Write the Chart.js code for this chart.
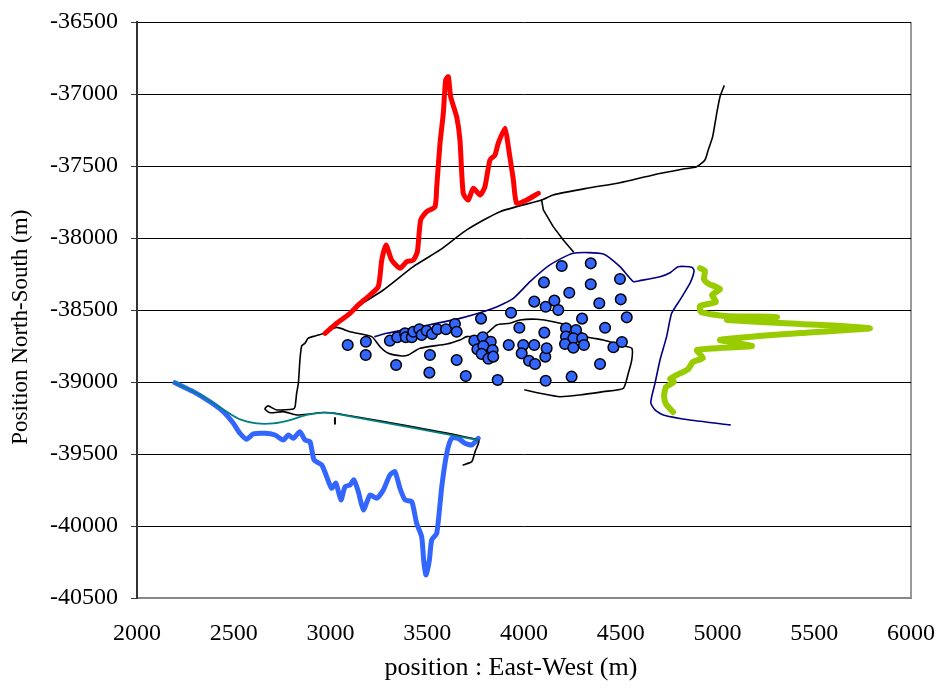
<!DOCTYPE html>
<html>
<head>
<meta charset="utf-8">
<script src="https://cdn.jsdelivr.net/npm/chart.js@4.4.1/dist/chart.umd.min.js"></script>
<style>
  html, body { margin: 0; padding: 0; background: #fff; }
</style>
</head>
<body>
<canvas id="myChart" width="939" height="688"></canvas>
<script>
// Track coordinates in metres
var redX = [2972,3032,3101,3144,3204,3247,3265,3287,3316,3359,3394,3428,3449,3466,3497,3540,3549,3566,3583,3595,3609,3621,3652,3669,3686,3712,3738,3773,3798,3824,3850,3867,3902,3919,3945,3962,4014,4074];
var redY = [-38662,-38592,-38523,-38465,-38396,-38338,-38153,-38049,-38153,-38210,-38164,-38153,-38095,-37875,-37817,-37783,-37644,-37342,-37134,-36903,-36880,-37019,-37158,-37319,-37690,-37736,-37655,-37701,-37644,-37458,-37424,-37342,-37238,-37366,-37597,-37759,-37736,-37690];

var blueX = [2196,2291,2377,2446,2498,2532,2567,2601,2661,2713,2756,2782,2808,2842,2868,2894,2915,2955,2980,3006,3028,3054,3075,3101,3121,3144,3170,3204,3239,3273,3307,3333,3359,3385,3420,3445,3471,3483,3494,3511,3523,3549,3575,3601,3626,3660,3695,3730,3764];
var blueY = [-39005,-39067,-39137,-39206,-39287,-39356,-39398,-39361,-39356,-39368,-39403,-39368,-39391,-39345,-39403,-39414,-39541,-39576,-39657,-39738,-39703,-39819,-39727,-39715,-39680,-39762,-39889,-39785,-39807,-39750,-39646,-39623,-39738,-39819,-39831,-39981,-40074,-40259,-40340,-40236,-40097,-40051,-39727,-39495,-39391,-39391,-39426,-39437,-39391];

var tealX = [2196,2326,2464,2532,2619,2704,2791,2877,2963,3032,3764];
var tealY = [-39005,-39090,-39206,-39259,-39287,-39287,-39264,-39229,-39213,-39222,-39403];

var navyX = [3230,3290,3463,3669,3841,3945,4031,4134,4255,4410,4496,4565,4599,4703,4755,4797,4867,4879,4858,4806,4763,4737,4703,4677,4655,4677,4720,4858,5065];
var navyY = [-38685,-38662,-38616,-38558,-38488,-38419,-38303,-38187,-38106,-38111,-38199,-38303,-38296,-38269,-38241,-38199,-38203,-38227,-38314,-38430,-38523,-38685,-38847,-39009,-39143,-39194,-39229,-39264,-39298];

var greenX = [4910,4935,4930,4956,5013,4972,4992,4910,4915,5039,5308,5049,5426,5788,5426,5013,5178,4894,4925,4873,4848,4780,4755,4775,4734,4724,4734,4770];
var greenY = [-38210,-38229,-38285,-38319,-38354,-38396,-38444,-38472,-38514,-38542,-38548,-38569,-38597,-38627,-38660,-38708,-38750,-38778,-38833,-38861,-38910,-38958,-38979,-39000,-39035,-39097,-39153,-39208];

// black survey track (main run, inner loop, branch, small tick)
var trackX = [5034,5013,4996,4975,4952,4935,4892,4823,4668,4496,4324,4151,4091,3876,3704,3566,3428,3273,3152,3049,2963,2920,2885,2868,2851,2842,2834,2825,2817,2808,2722,2677,2661,2687,2756,2825,2894,2961,3032,3764,3747,3730,3686];
var trackY = [-36944,-37019,-37134,-37296,-37389,-37458,-37505,-37521,-37562,-37616,-37655,-37701,-37736,-37817,-37944,-38083,-38199,-38361,-38465,-38569,-38662,-38680,-38696,-38731,-38750,-38847,-39009,-39078,-39171,-39187,-39194,-39166,-39187,-39213,-39206,-39229,-39222,-39212,-39219,-39403,-39484,-39553,-39576];

var loopX = [2963,3032,3101,3213,3256,3299,3368,3402,3463,3601,3669,3704,3756,3807,3859,3928,3979,4066,4151,4255,4324,4410,4496,4557,4557,4539,4513,4410,4289,4186,4083,4005];
var loopY = [-38662,-38621,-38651,-38685,-38755,-38801,-38819,-38812,-38766,-38736,-38708,-38685,-38685,-38662,-38604,-38592,-38569,-38564,-38581,-38620,-38685,-38708,-38743,-38766,-38847,-38939,-39044,-39067,-39090,-39102,-39078,-39055];

var branchX = [4091,4100,4151,4203,4255];
var branchY = [-37736,-37805,-37921,-38014,-38095];

var tickX = [3023,3023];
var tickY = [-39250,-39290];

// sample stations
var dotX = [3089,3183,3182,3307,3339,3345,3385,3389,3420,3428,3459,3471,3497,3525,3552,3597,3643,3652,3514,3511,3652,3699,3778,3743,3787,3759,3828,3790,3838,3781,3816,3841,3864,3921,3933,3976,3996,4053,3988,4026,4057,4110,4117,4105,4112,4053,4112,4157,4177,4103,4195,4234,4300,4217,4269,4217,4255,4301,4212,4255,4310,4345,4345,4389,4419,4393,4246,4462,4506,4496,4500,4531];
var dotY = [-38743,-38720,-38812,-38713,-38882,-38689,-38662,-38689,-38689,-38651,-38634,-38673,-38644,-38667,-38634,-38634,-38597,-38651,-38812,-38935,-38847,-38958,-38560,-38713,-38689,-38773,-38720,-38750,-38778,-38805,-38838,-38824,-38986,-38743,-38519,-38623,-38743,-38743,-38801,-38852,-38875,-38824,-38766,-38657,-38991,-38442,-38477,-38435,-38500,-38308,-38194,-38380,-38560,-38627,-38639,-38685,-38696,-38696,-38736,-38762,-38743,-38176,-38321,-38453,-38623,-38875,-38963,-38759,-38722,-38285,-38426,-38551];

var xTicks = [2000,2500,3000,3500,4000,4500,5000,5500,6000];
var yTicks = [-36500,-37000,-37500,-38000,-38500,-39000,-39500,-40000,-40500];

function pts(xs, ys) {
  return xs.map(function(x, i) { return {x: x, y: ys[i]}; });
}

function line(data, color, width, tension) {
  return {
    data: data,
    showLine: true,
    borderColor: color,
    borderWidth: width,
    pointRadius: 0,
    fill: false,
    tension: tension,
    borderCapStyle: 'round',
    borderJoinStyle: 'round'
  };
}

var serif = "'Liberation Serif', 'Times New Roman', serif";

var ctx = document.getElementById('myChart').getContext('2d');
var myChart = new Chart(ctx, {
  type: 'scatter',
  data: {
    // first dataset is drawn on top
    datasets: [
      {
        data: pts(dotX, dotY),
        pointRadius: 5.3,
        pointBackgroundColor: '#3366ff',
        pointBorderColor: '#000',
        pointBorderWidth: 1.5,
        showLine: false
      },
      line(pts(redX, redY), '#ff0000', 5, 0.2),
      line(pts(greenX, greenY), '#99cc00', 6, 0.2),
      line(pts(tealX, tealY), '#008080', 1.8, 0.3),
      line(pts(navyX, navyY), '#000080', 1.6, 0.2),
      line(pts(trackX, trackY), '#000000', 1.6, 0.2),
      line(pts(loopX, loopY), '#000000', 1.6, 0.2),
      line(pts(branchX, branchY), '#000000', 1.6, 0),
      line(pts(tickX, tickY), '#000000', 2, 0),
      line(pts(blueX, blueY), '#3366ff', 5, 0.2)
    ]
  },
  options: {
    responsive: false,
    animation: false,
    layout: { padding: { top: 22, right: 28, left: 0, bottom: 0 } },
    plugins: { legend: { display: false }, tooltip: { enabled: false } },
    scales: {
      x: {
        type: 'linear',
        min: 2000,
        max: 6000,
        afterBuildTicks: function(scale) { scale.ticks = xTicks.map(function(v) { return {value: v}; }); },
        afterFit: function(scale) {
          scale.height = 90;
          scale.paddingLeft = 0;
          scale.paddingRight = 0;
        },
        ticks: {
          color: '#000',
          padding: 21,
          maxRotation: 0,
          font: { family: serif, size: 24 },
          callback: function(v) { return String(v); }
        },
        grid: {
          drawTicks: false,
          lineWidth: 2,
          color: function(c) { return c.tick && c.tick.value === 6000 ? '#999' : 'rgba(0,0,0,0)'; }
        },
        border: { color: '#888', width: 2 },
        title: {
          display: true,
          // trailing spaces nudge the title left, like the original
          text: 'position : East-West (m)    ',
          color: '#000',
          font: { family: serif, size: 26 },
          padding: { top: 0, bottom: 4 }
        }
      },
      y: {
        type: 'linear',
        min: -40500,
        max: -36500,
        afterBuildTicks: function(scale) { scale.ticks = yTicks.map(function(v) { return {value: v}; }); },
        afterFit: function(scale) {
          scale.width = 137;
          scale.paddingTop = 0;
          scale.paddingBottom = 0;
        },
        ticks: {
          color: '#000',
          padding: 13,
          font: { family: serif, size: 24 },
          callback: function(v) { return String(v); }
        },
        grid: {
          tickLength: 6,
          tickColor: '#333',
          lineWidth: 1,
          color: function(c) { return c.tick && c.tick.value === -40500 ? 'rgba(0,0,0,0)' : '#000'; }
        },
        border: { color: '#333', width: 2 },
        title: {
          display: true,
          text: 'Position North-South (m)      ',
          color: '#000',
          font: { family: serif, size: 23 },
          padding: { top: 7, bottom: 0 }
        }
      }
    }
  }
});
</script>
</body>
</html>
